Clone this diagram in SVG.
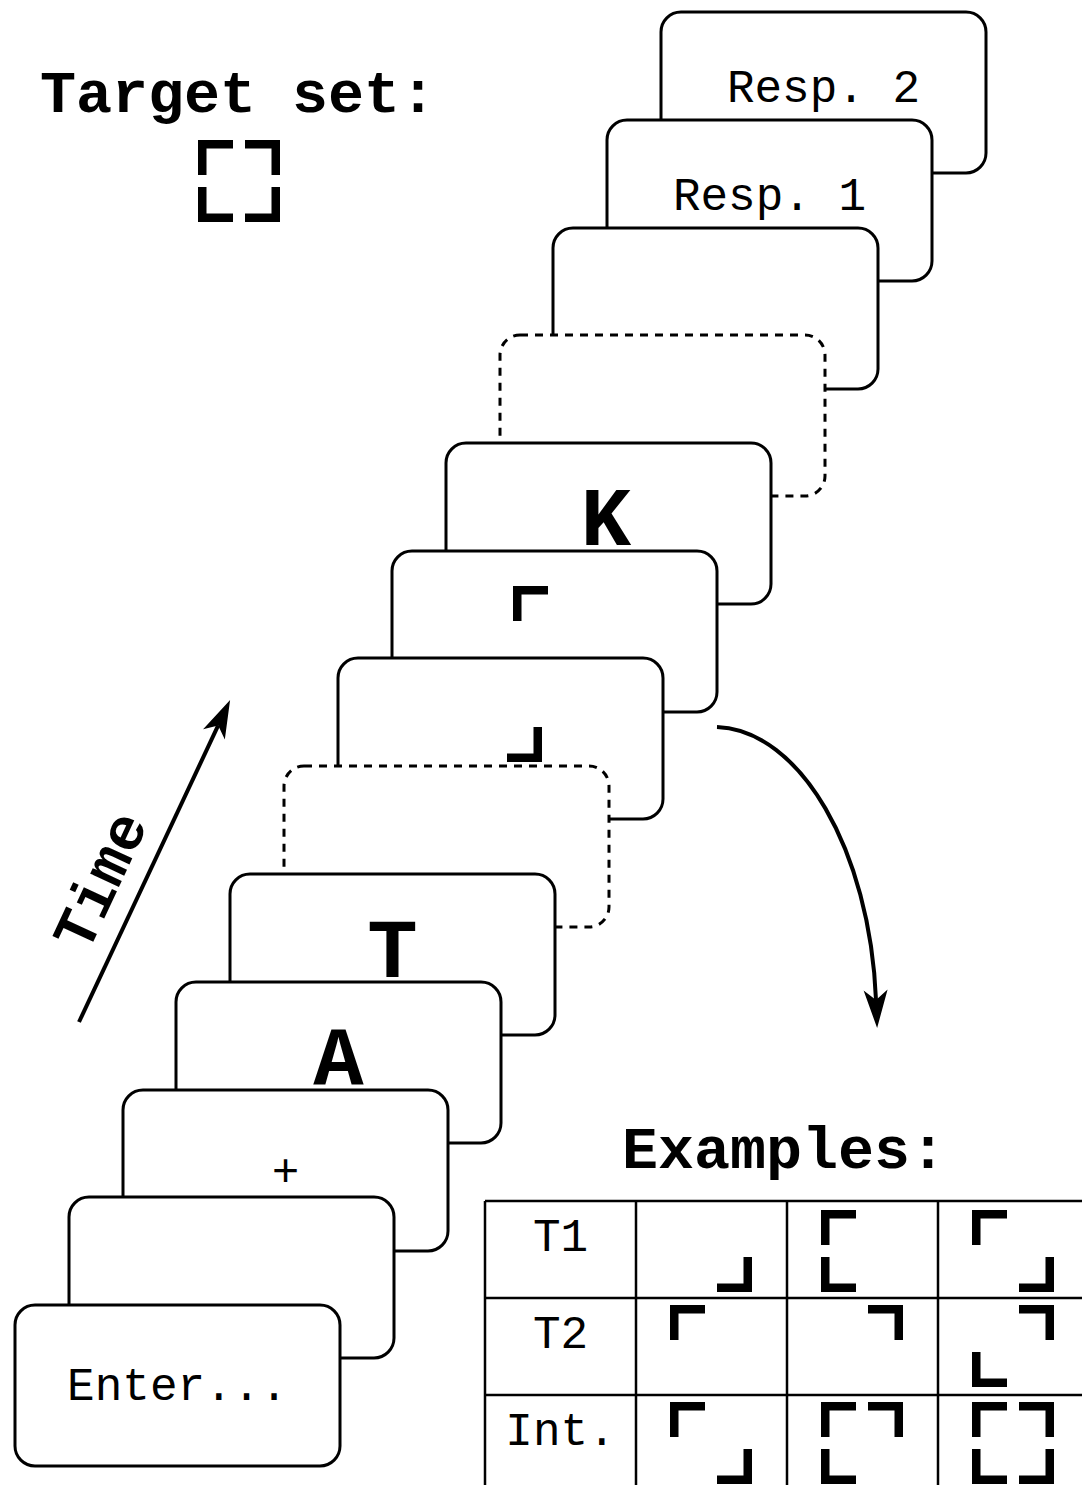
<svg xmlns="http://www.w3.org/2000/svg" xmlns:xlink="http://www.w3.org/1999/xlink" width="1082" height="1485" viewBox="0 0 1082 1485">
  <style>
    .card { fill: #fff; stroke: #000; stroke-width: 3; }
    .blank { stroke-dasharray: 8 7; }
    .mono { font-family: "Liberation Mono", "Courier New", monospace; fill: #000; }
    .lbl { font-size: 46px; text-anchor: middle; }
    .big { font-size: 84px; font-weight: bold; text-anchor: middle; }
    .head { font-size: 60px; font-weight: bold; }
    .cell { font-size: 46px; text-anchor: middle; }
    .grid { stroke: #000; stroke-width: 2.5; fill: none; }
    .arrow { stroke: #000; stroke-width: 4; fill: none; marker-end: url(#head); }
  </style>
  <defs>
    <marker id="head" markerUnits="userSpaceOnUse" markerWidth="40" markerHeight="26" refX="10" refY="12" orient="auto" overflow="visible">
      <path d="M38,12 L0,0 L10,12 L0,24 Z" fill="#000"/>
    </marker>
    <!-- corner pieces of the square target, 82 x 82 box -->
    <path id="cTL" d="M0,0 H35 V8.5 H8.5 V35 H0 Z"/>
    <path id="cTR" d="M47,0 H82 V35 H73.5 V8.5 H47 Z"/>
    <path id="cBL" d="M0,47 H8.5 V73.5 H35 V82 H0 Z"/>
    <path id="cBR" d="M82,47 V82 H47 V73.5 H73.5 V47 Z"/>
    <g id="full">
      <use xlink:href="#cTL"/><use xlink:href="#cTR"/><use xlink:href="#cBL"/><use xlink:href="#cBR"/>
    </g>
  </defs>

  <rect width="1082" height="1485" fill="#fff"/>

  <!-- target set legend -->
  <g id="target-set">
    <text class="mono head" x="40" y="112">Target set:</text>
    <use xlink:href="#full" x="198" y="140"/>
  </g>

  <!-- frame sequence, drawn back to front -->
  <g id="frame-resp2">
    <rect class="card" x="661" y="12" width="325" height="161" rx="20"/>
    <text class="mono lbl" x="823.5" y="102">Resp. 2</text>
  </g>
  <g id="frame-resp1">
    <rect class="card" x="607" y="120" width="325" height="161" rx="20"/>
    <text class="mono lbl" x="769.5" y="210">Resp. 1</text>
  </g>
  <g id="frame-mask">
    <rect class="card" x="553" y="228" width="325" height="161" rx="20"/>
  </g>
  <g id="frame-gap2">
    <rect class="card blank" x="500" y="335" width="325" height="161" rx="20"/>
  </g>
  <g id="frame-k">
    <rect class="card" x="446" y="443" width="325" height="161" rx="20"/>
    <text class="mono big" x="606" y="545">K</text>
  </g>
  <g id="frame-t2">
    <rect class="card" x="392" y="551" width="325" height="161" rx="20"/>
    <use xlink:href="#cTL" x="513" y="586"/>
  </g>
  <g id="frame-t1">
    <rect class="card" x="338" y="658" width="325" height="161" rx="20"/>
    <use xlink:href="#cBR" x="460" y="680"/>
  </g>
  <g id="frame-gap1">
    <rect class="card blank" x="284" y="766" width="325" height="161" rx="20"/>
  </g>
  <g id="frame-t">
    <rect class="card" x="230" y="874" width="325" height="161" rx="20"/>
    <text class="mono big" x="392.5" y="977">T</text>
  </g>
  <g id="frame-a">
    <rect class="card" x="176" y="982" width="325" height="161" rx="20"/>
    <text class="mono big" x="338.5" y="1084">A</text>
  </g>
  <g id="frame-fixation">
    <rect class="card" x="123" y="1090" width="325" height="161" rx="20"/>
    <text class="mono lbl" x="285.5" y="1186">+</text>
  </g>
  <g id="frame-blank">
    <rect class="card" x="69" y="1197" width="325" height="161" rx="20"/>
  </g>
  <g id="frame-enter">
    <rect class="card" x="15" y="1305" width="325" height="161" rx="20"/>
    <text class="mono lbl" x="177.5" y="1400">Enter...</text>
  </g>

  <!-- connectors -->
  <g id="connectors">
    <path class="arrow" d="M79,1022 L218.2,725.4" stroke-width="3.5"/>
    <path class="arrow" d="M717,727 C800,730 870,850 876,1000"/>
  </g>

  <g id="time-label">
    <text class="mono head" transform="translate(118,889) rotate(-65)" text-anchor="middle">Time</text>
  </g>

  <!-- examples table -->
  <g id="examples">
    <text class="mono head" x="622" y="1168">Examples:</text>
    <g class="grid">
      <path d="M485,1201 H1082 M485,1298 H1082 M485,1395 H1082"/>
      <path d="M485,1201 V1485 M636,1201 V1485 M787,1201 V1485 M938,1201 V1485"/>
    </g>
    <text class="mono cell" x="560.5" y="1251">T1</text>
    <text class="mono cell" x="560.5" y="1348">T2</text>
    <text class="mono cell" x="560.5" y="1445">Int.</text>
    <!-- row T1 -->
    <use xlink:href="#cBR" x="670" y="1210"/>
    <use xlink:href="#cTL" x="821" y="1210"/>
    <use xlink:href="#cBL" x="821" y="1210"/>
    <use xlink:href="#cTL" x="972" y="1210"/>
    <use xlink:href="#cBR" x="972" y="1210"/>
    <!-- row T2 -->
    <use xlink:href="#cTL" x="670" y="1305"/>
    <use xlink:href="#cTR" x="821" y="1305"/>
    <use xlink:href="#cTR" x="972" y="1305"/>
    <use xlink:href="#cBL" x="972" y="1305"/>
    <!-- row Int. -->
    <use xlink:href="#cTL" x="670" y="1402"/>
    <use xlink:href="#cBR" x="670" y="1402"/>
    <use xlink:href="#cTL" x="821" y="1402"/>
    <use xlink:href="#cTR" x="821" y="1402"/>
    <use xlink:href="#cBL" x="821" y="1402"/>
    <use xlink:href="#full" x="972" y="1402"/>
  </g>
</svg>
